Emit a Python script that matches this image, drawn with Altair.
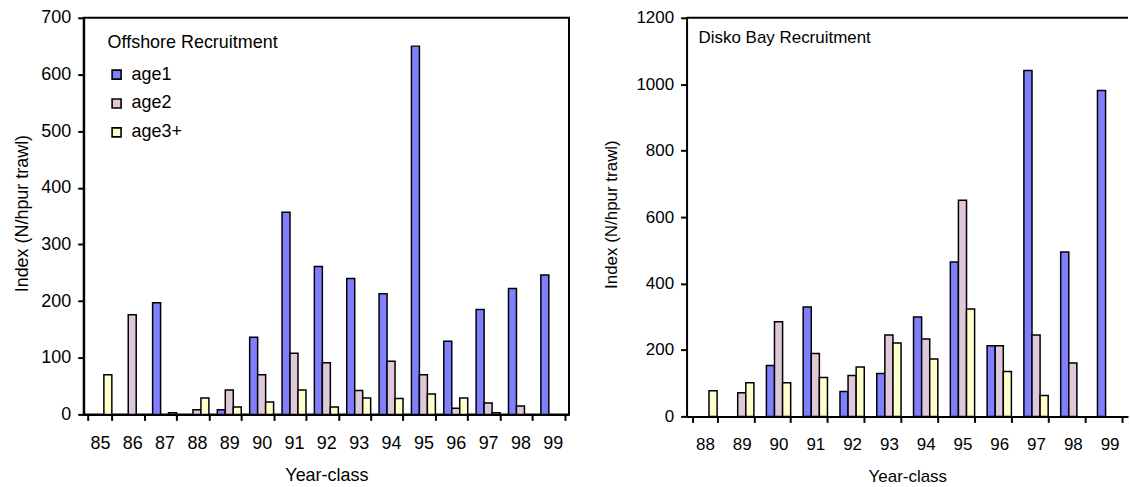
import altair as alt
import pandas as pd

ages = ["age1", "age2", "age3+"]
colors = ["#8080FF", "#DEC8DA", "#FFFFCC"]

off_years = ["85", "86", "87", "88", "89", "90", "91", "92", "93", "94", "95", "96", "97", "98", "99"]
off_age1 = [0, 0, 197, 0, 8, 136, 357, 261, 240, 213, 650, 129, 185, 222, 246]
off_age2 = [0, 176, 0, 8, 43, 70, 108, 91, 42, 94, 70, 11, 20, 15, 0]
off_age3 = [70, 0, 3, 29, 13, 22, 43, 13, 29, 28, 36, 29, 3, 0, 0]

disko_years = ["88", "89", "90", "91", "92", "93", "94", "95", "96", "97", "98", "99"]
disko_age1 = [0, 0, 153, 329, 75, 129, 299, 465, 213, 1041, 495, 981]
disko_age2 = [0, 71, 285, 189, 123, 245, 233, 651, 213, 245, 161, 0]
disko_age3 = [77, 101, 101, 117, 149, 221, 173, 323, 135, 63, 0, 0]

off_ticks = [0, 100, 200, 300, 400, 500, 600, 700]
disko_ticks = [0, 200, 400, 600, 800, 1000, 1200]


def long(years, a1, a2, a3):
    rows = []
    for i, y in enumerate(years):
        for age, v in zip(ages, (a1[i], a2[i], a3[i])):
            rows.append({"year": y, "age": age, "value": v})
    return pd.DataFrame(rows)


off_df = long(off_years, off_age1, off_age2, off_age3)
disko_df = long(disko_years, disko_age1, disko_age2, disko_age3)

FONT = "Liberation Sans"
LW, LH = 487, 398
RW, RH = 443, 400


def panel(df, years, ticks, w, h, fs, pad_inner, legend, ytitle_x):
    x_axis = alt.Axis(
        title="Year-class", labelAngle=0, tickBand="extent", tickSize=6, tickWidth=2,
        tickColor="black", domainColor="black", domainWidth=2, labelFontSize=fs,
        titleFontSize=fs, titleFontWeight="normal", labelColor="black", titleColor="black",
        labelPadding=14, titleY=52, labelFont=FONT, titleFont=FONT,
    )
    y_axis = alt.Axis(
        title="Index (N/hpur trawl)", values=ticks, format="d", grid=False, tickSize=6,
        tickWidth=2, tickColor="black", domainColor="black", domainWidth=2,
        labelFontSize=fs, titleFontSize=fs, titleFontWeight="normal", labelColor="black",
        titleColor="black", labelPadding=7, titleX=ytitle_x, titleY=h / 2 - 3,
        labelFont=FONT, titleFont=FONT,
    )
    color = alt.Color(
        "age:N", scale=alt.Scale(domain=ages, range=colors), sort=ages, legend=legend
    )
    bars = alt.Chart(df).transform_filter("datum.value > 0").mark_bar(
        stroke="black", strokeWidth=1.5
    ).encode(
        x=alt.X("year:N", sort=years, axis=x_axis,
                scale=alt.Scale(paddingInner=pad_inner, paddingOuter=pad_inner / 2)),
        xOffset=alt.XOffset("age:N", sort=ages, scale=alt.Scale(paddingInner=0)),
        y=alt.Y("value:Q", axis=y_axis,
                scale=alt.Scale(domain=[ticks[0], ticks[-1]], nice=False)),
        color=color,
    )
    return bars


legend = alt.Legend(
    title="Offshore Recruitment", orient="none", legendX=24, legendY=16,
    titleFontSize=18, titleFontWeight="normal", titleColor="black", titleFont=FONT,
    labelFontSize=18, labelColor="black", labelFont=FONT, symbolType="square",
    symbolSize=81, symbolStrokeColor="black", symbolStrokeWidth=1.6, rowPadding=11,
    titlePadding=14, labelOffset=6,
)

left = panel(off_df, off_years, off_ticks, LW, LH, 18, 0.26, legend, -52).properties(
    width=LW, height=LH, view=alt.ViewBackground(stroke="black", strokeWidth=2)
)

right_bars = panel(disko_df, disko_years, disko_ticks, RW, RH, 17, 0.34, None, -66)
right_title = alt.Chart(pd.DataFrame({"t": ["Disko Bay Recruitment"]})).mark_text(
    align="left", baseline="middle", fontSize=17, font=FONT, color="black"
).encode(x=alt.value(12), y=alt.value(20), text="t:N")
right_top = alt.Chart(pd.DataFrame({"a": [0]})).mark_rule(
    color="black", strokeWidth=2
).encode(x=alt.value(0), x2=alt.value(RW), y=alt.value(0))

right = alt.layer(right_bars, right_title, right_top).properties(
    width=RW, height=RH, view=alt.ViewBackground(stroke="transparent")
)

chart = alt.hconcat(left, right, spacing=32).resolve_scale(
    x="independent", y="independent", color="independent", xOffset="independent"
).properties(
    padding={"left": 13, "top": 7, "right": 0, "bottom": 0}
).configure(font=FONT).configure_view(strokeWidth=2)

chart.save("out.html", embed_options={"renderer": "svg", "actions": False})
